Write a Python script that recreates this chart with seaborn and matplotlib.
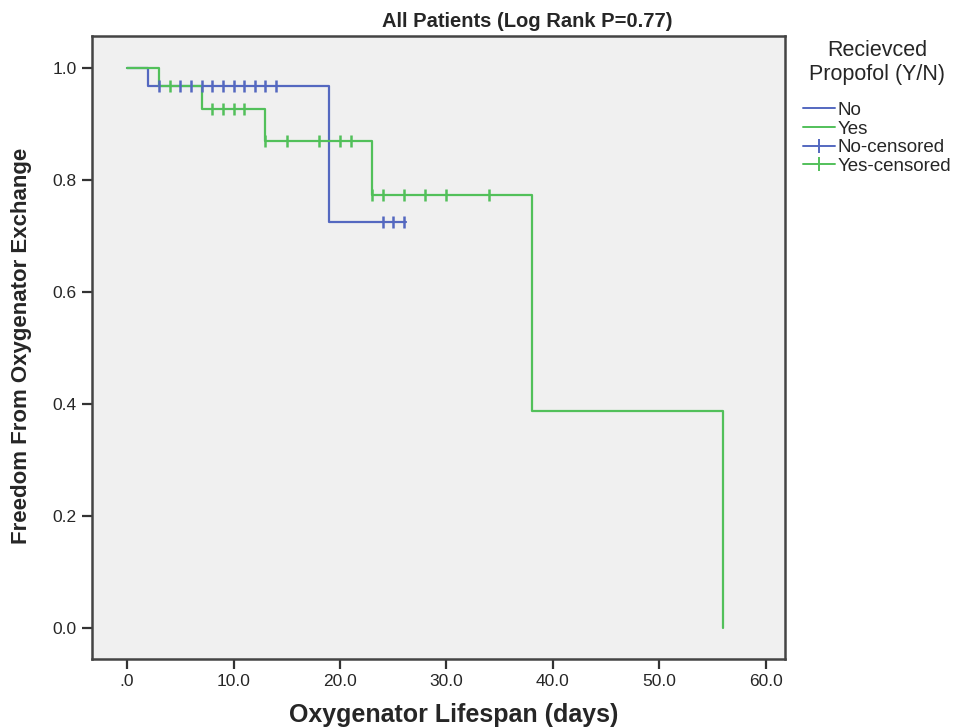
import numpy as np
import pandas as pd
import matplotlib.pyplot as plt
import seaborn as sns
from matplotlib.lines import Line2D

# Kaplan-Meier step values
no_time = [0, 2, 19, 26.2]
no_surv = [1.0, 0.967, 0.725, 0.725]
no_cens_t = [3, 5, 6, 7, 8, 9, 10, 11, 12, 13, 14, 24, 25, 26]
no_cens_s = [0.967] * 11 + [0.725] * 3

yes_time = [0, 3, 7, 13, 23, 38, 56]
yes_surv = [1.0, 0.967, 0.927, 0.870, 0.773, 0.387, 0.0]
yes_cens_t = [4, 8, 9, 10, 11, 13, 15, 18, 20, 21, 23, 24, 26, 28, 30, 34]
yes_cens_s = [0.967] + [0.927] * 4 + [0.870] * 5 + [0.773] * 6

blue = '#5468c0'
green = '#52c05a'

sns.set_style('white')
plt.rcParams['font.family'] = ['Liberation Sans', 'DejaVu Sans']

fig = plt.figure(figsize=(9.68, 7.27), dpi=100)
ax = fig.add_axes([0.095, 0.0935, 0.716, 0.857])
ax.set_facecolor('#f0f0f0')

df_no = pd.DataFrame({'t': no_time, 's': no_surv})
df_yes = pd.DataFrame({'t': yes_time, 's': yes_surv})
sns.lineplot(data=df_no, x='t', y='s', drawstyle='steps-post', color=blue, lw=1.6, ax=ax)
sns.lineplot(data=df_yes, x='t', y='s', drawstyle='steps-post', color=green, lw=1.6, ax=ax)
ax.plot(no_cens_t, no_cens_s, ls='none', marker='|', ms=8, mew=1.8, color=blue)
ax.plot(yes_cens_t, yes_cens_s, ls='none', marker='|', ms=8, mew=1.8, color=green)

ax.set_xlim(-3.3, 61.8)
ax.set_ylim(-0.055, 1.057)
ax.set_xticks([0, 10, 20, 30, 40, 50, 60])
ax.set_xticklabels(['.0', '10.0', '20.0', '30.0', '40.0', '50.0', '60.0'])
ax.set_yticks([0, 0.2, 0.4, 0.6, 0.8, 1.0])
ax.set_yticklabels(['0.0', '0.2', '0.4', '0.6', '0.8', '1.0'])
ax.tick_params(direction='out', length=7, width=1.6, color='#333333', labelsize=12.5,
               pad=4, bottom=True, left=True)
for sp in ax.spines.values():
    sp.set_color('#444444')
    sp.set_linewidth(1.8)
ax.set_xlabel('')
ax.set_ylabel('')

fig.text(0.545, 0.970, 'All Patients (Log Rank P=0.77)', ha='center', va='center',
         fontsize=14.5, fontweight='bold')
fig.text(0.469, 0.017, 'Oxygenator Lifespan (days)', ha='center', va='center',
         fontsize=18, fontweight='bold')
fig.text(0.022, 0.524, 'Freedom From Oxygenator Exchange', ha='center', va='center',
         rotation=90, fontsize=16, fontweight='bold')

handles = [
    Line2D([], [], color=blue, lw=1.4),
    Line2D([], [], color=green, lw=1.4),
    Line2D([], [], color=blue, lw=1.4, marker='|', ms=10, mew=1.4),
    Line2D([], [], color=green, lw=1.4, marker='|', ms=10, mew=1.4),
]
leg = fig.legend(handles, ['No', 'Yes', 'No-censored', 'Yes-censored'],
                 title='Recievced\nPropofol (Y/N)', loc='upper left',
                 bbox_to_anchor=(0.830, 0.945), frameon=False, fontsize=13.5,
                 title_fontsize=15.5, handlelength=1.7, handletextpad=0.1,
                 labelspacing=0.08, borderaxespad=0, borderpad=0)
leg.get_title().set_ha('center')
leg._legend_box.sep = 12

fig.savefig('out.png', dpi=100)
